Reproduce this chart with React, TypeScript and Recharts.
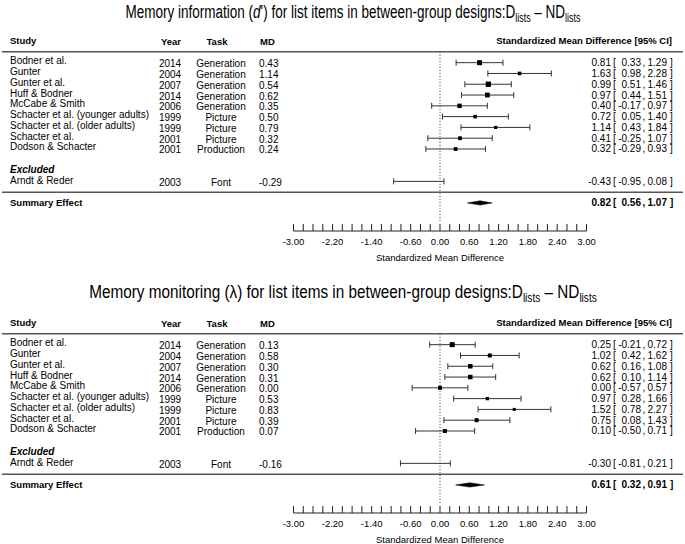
import React from 'react';
import { ComposedChart, Scatter, ErrorBar, XAxis, YAxis, ReferenceLine, Area } from 'recharts';

// studies shared by both panels
const studies = [
  'Bodner et al.',
  'Gunter',
  'Gunter et al.',
  'Huff & Bodner',
  'McCabe & Smith',
  'Schacter et al. (younger adults)',
  'Schacter et al. (older adults)',
  'Schacter et al.',
  'Dodson & Schacter',
];
const years = [2014, 2004, 2007, 2014, 2006, 1999, 1999, 2001, 2001];
const tasks = ['Generation', 'Generation', 'Generation', 'Generation', 'Generation', 'Picture', 'Picture', 'Picture', 'Production'];
const excludedStudy = 'Arndt & Reder';
const excludedYear = 2003;
const excludedTask = 'Font';

// memory information (d')
const infoMD = [0.43, 1.14, 0.54, 0.62, 0.35, 0.5, 0.79, 0.32, 0.24];
const infoEst = [0.81, 1.63, 0.99, 0.97, 0.4, 0.72, 1.14, 0.41, 0.32];
const infoLow = [0.33, 0.98, 0.51, 0.44, -0.17, 0.05, 0.43, -0.25, -0.29];
const infoHigh = [1.29, 2.28, 1.46, 1.51, 0.97, 1.4, 1.84, 1.07, 0.93];
const infoWeights = [13.7, 7.1, 15.4, 12.6, 10.6, 7.1, 5.6, 7.9, 7.9];
const infoExcluded = { md: -0.29, est: -0.43, low: -0.95, high: 0.08 };
const infoSummary = { est: 0.82, low: 0.56, high: 1.07 };

// memory monitoring (lambda)
const monMD = [0.13, 0.58, 0.3, 0.31, 0.0, 0.53, 0.83, 0.39, 0.07];
const monEst = [0.25, 1.02, 0.62, 0.62, 0.0, 0.97, 1.52, 0.75, 0.1];
const monLow = [-0.21, 0.42, 0.16, 0.1, -0.57, 0.28, 0.78, 0.08, -0.5];
const monHigh = [0.72, 1.62, 1.08, 1.14, 0.57, 1.66, 2.27, 1.43, 0.71];
const monWeights = [13.7, 8.8, 11.1, 11.1, 8.8, 6.0, 4.9, 8.8, 8.8];
const monExcluded = { md: -0.16, est: -0.3, low: -0.81, high: 0.21 };
const monSummary = { est: 0.61, low: 0.32, high: 0.91 };

// x axis
const xTicks = [
  -3, -2.8, -2.6, -2.4, -2.2, -2, -1.8, -1.6, -1.4, -1.2, -1, -0.8, -0.6, -0.4, -0.2, 0,
  0.2, 0.4, 0.6, 0.8, 1, 1.2, 1.4, 1.6, 1.8, 2, 2.2, 2.4, 2.6, 2.8, 3,
];
const xTickLabels = [-3, -2.2, -1.4, -0.6, 0, 0.6, 1.2, 1.8, 2.4, 3];

// row slots (top to bottom)
const HEADER = -2;
const RULE_TOP = -1;
const EXCL_LABEL = 10;
const EXCL_ROW = 11;
const RULE_BOTTOM = 12;
const SUMMARY = 13;
const rowTicks = [HEADER, RULE_TOP, 0, 1, 2, 3, 4, 5, 6, 7, 8, EXCL_LABEL, EXCL_ROW, RULE_BOTTOM, SUMMARY];

const FS = 10;
const INK = '#222';

type Panel = {
  md: number[];
  est: number[];
  low: number[];
  high: number[];
  weights: number[];
  excluded: { md: number; est: number; low: number; high: number };
  summary: { est: number; low: number; high: number };
};

const ciText = (y: number, est: number, low: number, high: number, bold = false) => {
  const w = bold ? 'bold' : 'normal';
  return (
    <g fontSize={FS} fill="#000" fontWeight={w}>
      <text x={611} y={y} textAnchor="end">{est.toFixed(2)}</text>
      <text x={613} y={y}>[</text>
      <text x={641} y={y} textAnchor="end">{low.toFixed(2)}</text>
      <text x={642.5} y={y}>,</text>
      <text x={667} y={y} textAnchor="end">{high.toFixed(2)}</text>
      <text x={670} y={y}>]</text>
    </g>
  );
};

const makeRowTick = (p: Panel) => (props: any) => {
  const { y, payload } = props;
  const r = Math.round(payload.value);
  const colY = y + 4.5;
  const ciY = y + 3.5;
  if (r === HEADER) {
    return (
      <g fontSize={9.5} fontWeight="bold" fill="#000">
        <text x={10} y={y + 3}>Study</text>
        <text x={171} y={y + 4} textAnchor="middle">Year</text>
        <text x={217} y={y + 4} textAnchor="middle">Task</text>
        <text x={260} y={y + 4}>MD</text>
        <text x={672} y={y + 3} textAnchor="end">Standardized Mean Difference [95% CI]</text>
      </g>
    );
  }
  if (r === RULE_TOP || r === RULE_BOTTOM) {
    return <line x1={2} x2={683} y1={y} y2={y} stroke="#555" strokeWidth={1.5} />;
  }
  if (r === EXCL_LABEL) {
    return (
      <text x={10} y={y + 2} fontSize={FS} fontWeight="bold" fontStyle="italic" fill="#000">Excluded</text>
    );
  }
  if (r === SUMMARY) {
    return (
      <g>
        <text x={10} y={y + 3} fontSize={9.5} fontWeight="bold" fill="#000">Summary Effect</text>
        {ciText(ciY, p.summary.est, p.summary.low, p.summary.high, true)}
      </g>
    );
  }
  const isEx = r === EXCL_ROW;
  const name = isEx ? excludedStudy : studies[r];
  const year = isEx ? excludedYear : years[r];
  const task = isEx ? excludedTask : tasks[r];
  const md = isEx ? p.excluded.md : p.md[r];
  const est = isEx ? p.excluded.est : p.est[r];
  const low = isEx ? p.excluded.low : p.low[r];
  const high = isEx ? p.excluded.high : p.high[r];
  const nameY = isEx ? y + 3 : y + 1.5;
  return (
    <g fontSize={FS} fill="#000">
      <text x={10} y={nameY}>{name}</text>
      <text x={170} y={colY} textAnchor="middle">{year}</text>
      <text x={221} y={colY} textAnchor="middle">{task}</text>
      <text x={259} y={colY}>{md.toFixed(2)}</text>
      {ciText(ciY, est, low, high)}
    </g>
  );
};

const renderAxisTick = (props: any) => {
  const { x, y, payload } = props;
  const v = payload.value;
  const labeled = xTickLabels.some((l) => Math.abs(l - v) < 1e-6);
  return (
    <g>
      <line x1={x} x2={x} y1={y} y2={y - 7} stroke={INK} strokeWidth={1} />
      {labeled && (
        <text x={x} y={y + 13.5} textAnchor="middle" fontSize={9.5} fill="#000">
          {v.toFixed(2)}
        </text>
      )}
    </g>
  );
};

const renderSquare = (props: any) => {
  const { cx, cy, payload } = props;
  const s = payload.size;
  if (!s) return <g />;
  return <rect x={cx - s / 2} y={cy - s / 2} width={s} height={s} fill="#000" />;
};

const ForestPanel = ({ p, height, bottom }: { p: Panel; height: number; bottom: number }) => {
  const points = studies.map((_, i) => ({
    x: p.est[i],
    y: i,
    err: [p.est[i] - p.low[i], p.high[i] - p.est[i]],
    size: 1.35 * Math.sqrt(p.weights[i]),
  }));
  points.push({
    x: p.excluded.est,
    y: EXCL_ROW,
    err: [p.excluded.est - p.excluded.low, p.excluded.high - p.excluded.est],
    size: 0,
  });
  const diamond = [
    { x: p.summary.low, band: [SUMMARY, SUMMARY] },
    { x: p.summary.est, band: [SUMMARY - 0.2, SUMMARY + 0.2] },
    { x: p.summary.high, band: [SUMMARY, SUMMARY] },
  ];
  return (
    <ComposedChart width={685} height={height} margin={{ top: 19.5, right: 98.5, bottom, left: 0 }}>
      <XAxis
        type="number"
        dataKey="x"
        domain={[-3, 3]}
        ticks={xTicks}
        interval={0}
        tickSize={0}
        tickMargin={0}
        tickLine={false}
        tick={renderAxisTick}
        axisLine={{ stroke: INK }}
        height={31}
        allowDataOverflow
        label={{ value: 'Standardized Mean Difference', position: 'insideBottom', offset: 1.5, fontSize: 9.5, fill: '#000' }}
      />
      <YAxis
        type="number"
        dataKey="y"
        domain={[-4, 15.6]}
        reversed
        ticks={rowTicks}
        interval={0}
        tick={makeRowTick(p)}
        tickLine={false}
        axisLine={false}
        width={293.5}
        allowDataOverflow
      />
      <ReferenceLine
        segment={[{ x: 0, y: RULE_TOP }, { x: 0, y: 14.8 }]}
        stroke="#333"
        strokeDasharray="1 2"
      />
      <Scatter data={points} shape={renderSquare} isAnimationActive={false}>
        <ErrorBar dataKey="err" direction="x" width={3} stroke="#333" strokeWidth={1} isAnimationActive={false} />
      </Scatter>
      <Area
        data={diamond}
        dataKey="band"
        type="linear"
        fill="#000"
        fillOpacity={1}
        stroke="#000"
        strokeWidth={0.5}
        dot={false}
        activeDot={false}
        isAnimationActive={false}
      />
    </ComposedChart>
  );
};

const Title = ({ top, center, squeeze, children }: { top: number; center: number; squeeze: number; children: React.ReactNode }) => (
  <div
    style={{
      position: 'absolute',
      top,
      left: center - 400,
      width: 800,
      textAlign: 'center',
      fontSize: 18,
      lineHeight: '22px',
      color: '#000',
      whiteSpace: 'nowrap',
      transform: `scaleX(${squeeze})`,
      transformOrigin: '400px 0',
    }}
  >
    {children}
  </div>
);

const Sub = ({ children }: { children: React.ReactNode }) => (
  <span style={{ fontSize: '0.66em', position: 'relative', top: '0.3em' }}>{children}</span>
);

export default function App() {
  const info: Panel = {
    md: infoMD, est: infoEst, low: infoLow, high: infoHigh, weights: infoWeights,
    excluded: infoExcluded, summary: infoSummary,
  };
  const mon: Panel = {
    md: monMD, est: monEst, low: monLow, high: monHigh, weights: monWeights,
    excluded: monExcluded, summary: monSummary,
  };
  return (
    <div
      style={{
        position: 'absolute',
        left: 0,
        top: 0,
        width: 685,
        height: 544,
        overflow: 'hidden',
        background: '#fff',
        fontFamily: '"Liberation Sans", Arial, Helvetica, sans-serif',
      }}
    >
      <div style={{ position: 'absolute', top: 0, left: 0 }}>
        <ForestPanel p={info} height={282} bottom={20} />
      </div>
      <div style={{ position: 'absolute', top: 282, left: 0 }}>
        <ForestPanel p={mon} height={262} bottom={0} />
      </div>
      <Title top={1} center={353} squeeze={0.75}>
        Memory information (<i>d</i>') for list items in between-group designs:D<Sub>lists</Sub> – ND<Sub>lists</Sub>
      </Title>
      <Title top={281} center={343} squeeze={0.85}>
        Memory monitoring (λ) for list items in between-group designs:D<Sub>lists</Sub> – ND<Sub>lists</Sub>
      </Title>
    </div>
  );
}
